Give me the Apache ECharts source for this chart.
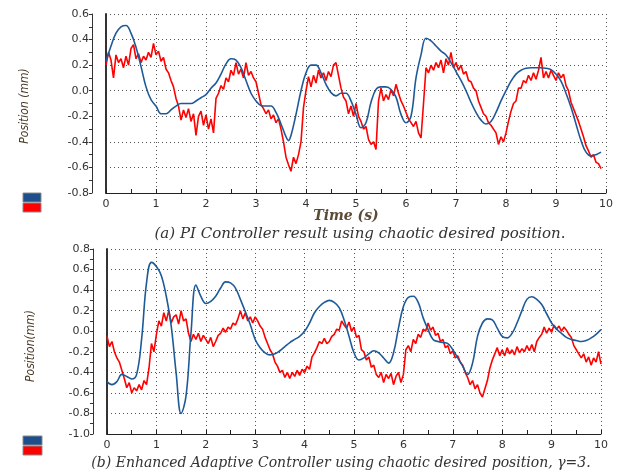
<!DOCTYPE html>
<html><head><meta charset="utf-8">
<script src="https://cdn.jsdelivr.net/npm/echarts@6/dist/echarts.min.js"></script>
<style>html,body{margin:0;padding:0;background:#fff}#c{width:621px;height:472px}</style>
</head><body><div id="c"></div>
<script>
// ---- Data ----
const xTicks = [0,1,2,3,4,5,6,7,8,9,10];
const topYTicks = [-0.8,-0.6,-0.4,-0.2,0.0,0.2,0.4,0.6];
const botYTicks = [-1.0,-0.8,-0.6,-0.4,-0.2,0.0,0.2,0.4,0.6,0.8];

// (a) PI controller: desired (blue) and actual (red)
const blueTopT = [0,0.1,0.2,0.3,0.4,0.5,0.6,0.7,0.8,0.9,1.0,1.1,1.2,1.3,1.4,1.5,1.6,1.7,1.8,1.9,2.0,2.1,2.2,2.3,2.4,2.5,2.6,2.7,2.8,2.9,3.0,3.1,3.2,3.3,3.4,3.5,3.6,3.65,3.7,3.8,3.9,4.0,4.1,4.2,4.3,4.4,4.5,4.6,4.7,4.8,4.9,5.0,5.1,5.2,5.3,5.4,5.5,5.6,5.7,5.8,5.9,6.0,6.1,6.2,6.3,6.4,6.5,6.6,6.7,6.8,6.9,7.0,7.1,7.2,7.3,7.4,7.5,7.6,7.7,7.8,7.9,8.0,8.1,8.2,8.3,8.4,8.5,8.6,8.7,8.8,8.9,9.0,9.1,9.2,9.3,9.4,9.5,9.6,9.7,9.8,9.9];
const blueTopV = [0.23,0.35,0.45,0.50,0.51,0.45,0.34,0.19,0.03,-0.07,-0.12,-0.18,-0.18,-0.15,-0.12,-0.10,-0.10,-0.10,-0.08,-0.055,-0.03,0.02,0.06,0.13,0.21,0.25,0.24,0.18,0.08,-0.02,-0.08,-0.115,-0.12,-0.12,-0.17,-0.26,-0.36,-0.39,-0.35,-0.185,0.00,0.14,0.20,0.20,0.14,0.05,-0.015,-0.04,-0.02,-0.02,-0.08,-0.185,-0.29,-0.25,-0.09,0.01,0.03,0.03,0.01,-0.05,-0.185,-0.25,-0.20,0.10,0.28,0.41,0.39,0.35,0.31,0.28,0.22,0.15,0.08,0.00,-0.09,-0.17,-0.23,-0.26,-0.24,-0.17,-0.08,0.00,0.075,0.13,0.16,0.175,0.18,0.18,0.18,0.175,0.165,0.13,0.075,-0.02,-0.13,-0.26,-0.39,-0.48,-0.51,-0.50,-0.48];
const redTopStep = 0.05;
const redTopV = [0.20,0.30,0.24,0.10,0.28,0.22,0.25,0.18,0.27,0.20,
0.33,0.36,0.25,0.29,0.22,0.27,0.24,0.30,0.26,0.37,
0.28,0.31,0.23,0.26,0.17,0.14,0.08,0.03,-0.06,-0.12,
-0.23,-0.15,-0.21,-0.14,-0.24,-0.18,-0.35,-0.20,-0.16,-0.27,
-0.19,-0.30,-0.22,-0.33,-0.06,-0.02,0.04,0.01,0.10,0.07,
0.16,0.12,0.22,0.13,0.17,0.10,0.22,0.12,0.15,0.10,
0.07,-0.02,-0.11,-0.14,-0.18,-0.15,-0.22,-0.19,-0.25,-0.22,
-0.30,-0.40,-0.52,-0.58,-0.63,-0.52,-0.57,-0.50,-0.40,-0.13,
0.00,0.11,0.03,0.12,0.06,0.16,0.10,0.14,0.08,0.15,
0.11,0.20,0.22,0.12,0.02,-0.05,-0.08,-0.18,-0.12,-0.20,
-0.10,-0.20,-0.24,-0.30,-0.28,-0.38,-0.42,-0.40,-0.46,-0.08,
0.02,-0.08,-0.03,-0.07,0.01,-0.04,0.05,-0.02,-0.08,-0.12,
-0.17,-0.22,-0.25,-0.28,-0.24,-0.33,-0.37,-0.10,0.18,0.14,
0.20,0.16,0.22,0.18,0.24,0.14,0.25,0.20,0.30,0.18,
0.22,0.16,0.20,0.13,0.15,0.08,0.07,0.02,0.00,-0.08,
-0.13,-0.18,-0.20,-0.25,-0.27,-0.30,-0.33,-0.42,-0.36,-0.40,
-0.33,-0.24,-0.16,-0.10,-0.08,0.02,0.02,0.08,0.06,0.12,
0.08,0.14,0.09,0.16,0.26,0.10,0.15,0.10,0.16,0.12,
0.08,0.14,0.10,0.13,0.04,0.00,-0.09,-0.14,-0.19,-0.24,
-0.30,-0.36,-0.43,-0.47,-0.52,-0.50,-0.56,-0.57,-0.61];

// (b) Enhanced adaptive controller
const blueBotT = [0,0.1,0.2,0.3,0.4,0.5,0.6,0.7,0.8,0.9,1.0,1.1,1.2,1.3,1.4,1.5,1.6,1.7,1.8,1.9,2.0,2.1,2.2,2.3,2.4,2.5,2.6,2.7,2.8,2.9,3.0,3.1,3.2,3.3,3.4,3.5,3.6,3.7,3.8,3.9,4.0,4.1,4.2,4.3,4.4,4.5,4.6,4.7,4.8,4.9,5.0,5.1,5.2,5.3,5.4,5.5,5.6,5.7,5.8,5.9,6.0,6.1,6.2,6.3,6.4,6.5,6.6,6.7,6.8,6.9,7.0,7.1,7.2,7.3,7.4,7.5,7.6,7.7,7.8,7.9,8.0,8.1,8.2,8.3,8.4,8.5,8.6,8.7,8.8,8.9,9.0,9.1,9.2,9.3,9.4,9.5,9.6,9.7,9.8,9.9,10.0];
const blueBotV = [-0.49,-0.52,-0.49,-0.42,-0.44,-0.465,-0.42,-0.08,0.47,0.67,0.63,0.54,0.34,0.05,-0.41,-0.80,-0.63,-0.02,0.45,0.34,0.27,0.29,0.34,0.42,0.48,0.47,0.42,0.31,0.19,0.065,-0.08,-0.16,-0.21,-0.23,-0.22,-0.19,-0.15,-0.11,-0.08,-0.05,0.00,0.08,0.18,0.24,0.28,0.30,0.28,0.23,0.11,-0.05,-0.21,-0.28,-0.26,-0.22,-0.19,-0.21,-0.26,-0.31,-0.21,0.03,0.24,0.33,0.34,0.28,0.13,0.015,-0.08,-0.10,-0.11,-0.12,-0.18,-0.26,-0.34,-0.42,-0.31,-0.05,0.08,0.12,0.11,0.03,-0.05,-0.065,-0.02,0.08,0.20,0.31,0.335,0.31,0.26,0.17,0.08,0.02,-0.02,-0.06,-0.08,-0.09,-0.10,-0.09,-0.065,-0.03,0.015];
const redBotStep = 0.05;
const redBotV = [-0.05,-0.15,-0.10,-0.20,-0.26,-0.30,-0.38,-0.46,-0.55,-0.50,
-0.60,-0.55,-0.58,-0.52,-0.57,-0.48,-0.52,-0.36,-0.12,-0.20,
-0.03,0.10,0.05,0.18,0.10,0.20,0.08,0.14,0.16,0.07,
0.20,0.10,0.12,-0.02,-0.10,-0.03,-0.08,-0.02,-0.10,-0.04,
-0.08,-0.12,-0.06,-0.15,-0.10,-0.04,-0.02,0.03,-0.01,0.04,
0.02,0.08,0.06,0.12,0.20,0.12,0.18,0.10,0.14,0.08,
0.14,0.10,0.05,0.02,-0.06,-0.12,-0.18,-0.22,-0.30,-0.34,
-0.40,-0.38,-0.45,-0.40,-0.46,-0.40,-0.44,-0.38,-0.43,-0.37,
-0.40,-0.34,-0.37,-0.25,-0.21,-0.16,-0.10,-0.12,-0.07,-0.12,
-0.10,-0.05,-0.03,0.02,0.01,0.10,0.06,0.03,0.09,0.00,
0.04,-0.06,-0.04,-0.18,-0.20,-0.28,-0.25,-0.35,-0.33,-0.42,
-0.45,-0.40,-0.50,-0.42,-0.46,-0.41,-0.52,-0.44,-0.40,-0.50,
-0.42,-0.18,-0.14,-0.20,-0.08,-0.12,-0.03,-0.06,0.02,0.00,
0.08,0.01,0.04,-0.04,-0.02,-0.10,-0.08,-0.16,-0.14,-0.22,
-0.19,-0.26,-0.24,-0.30,-0.33,-0.40,-0.45,-0.52,-0.48,-0.56,
-0.52,-0.60,-0.64,-0.56,-0.48,-0.36,-0.28,-0.22,-0.16,-0.24,
-0.18,-0.24,-0.16,-0.22,-0.18,-0.23,-0.15,-0.21,-0.17,-0.20,
-0.14,-0.19,-0.13,-0.20,-0.10,-0.06,-0.03,0.04,-0.02,0.03,
-0.01,0.06,0.02,0.05,0.00,0.04,0.01,-0.03,-0.06,-0.14,
-0.18,-0.22,-0.26,-0.22,-0.30,-0.25,-0.33,-0.26,-0.30,-0.20,
-0.32];

// ---- Build ----
const pairs = (t, v) => v.map((y, i) => [t[i], y]);
const stepPairs = (step, v) => v.map((y, i) => [+(i * step).toFixed(2), y]);

const chart = echarts.init(document.getElementById('c'), null, {renderer: 'canvas'});
const LBL = {color: '#333', fontFamily: 'DejaVu Sans, Liberation Sans, sans-serif', fontSize: 11};
const dotted = {show: true, lineStyle: {color: '#555', type: [1, 3], width: 1}};

function xAx(gi, ticks) {
  return {
    type: 'value', gridIndex: gi, min: ticks[0], max: ticks[ticks.length - 1], interval: 1,
    axisLine: {show: true, onZero: false, lineStyle: {color: '#222', width: 1}},
    axisTick: {show: true, inside: true, length: 4, lineStyle: {color: '#222'}},
    minorTick: {show: true, splitNumber: 2, length: 4, lineStyle: {color: '#222'}},
    axisLabel: Object.assign({margin: 6, formatter: v => String(v)}, LBL),
    splitLine: dotted
  };
}
function yAx(gi, ticks) {
  return {
    type: 'value', gridIndex: gi, position: 'left', min: ticks[0], max: ticks[ticks.length - 1], interval: 0.2,
    offset: 14,
    axisLine: {show: true, onZero: false, lineStyle: {color: '#333', width: 1}},
    axisTick: {show: true, length: 3, lineStyle: {color: '#333'}},
    minorTick: {show: true, splitNumber: 2, length: 3, lineStyle: {color: '#333'}},
    axisLabel: Object.assign({margin: 3, formatter: v => v.toFixed(1)}, LBL),
    splitLine: dotted
  };
}
function yLine(gi, ticks) {
  return {
    type: 'value', gridIndex: gi, position: 'left', min: ticks[0], max: ticks[ticks.length - 1], interval: 0.2,
    offset: 0,
    axisLine: {show: true, onZero: false, lineStyle: {color: '#333', width: 2}},
    axisTick: {show: false}, axisLabel: {show: false}, splitLine: {show: false}
  };
}

const BLUE = '#1f5a98', RED = '#ff0000';
const capFont = 'DejaVu Serif, Liberation Serif, serif';
const nameFont = 'italic 12px "Liberation Sans Narrow", "DejaVu Sans Condensed", sans-serif';

chart.setOption({
  animation: false,
  backgroundColor: '#fff',
  grid: [
    {left: 106, top: 14, width: 500, height: 179},
    {left: 107, top: 249, width: 494, height: 185}
  ],
  xAxis: [xAx(0, xTicks), xAx(1, xTicks)],
  yAxis: [yAx(0, topYTicks), yLine(0, topYTicks), yAx(1, botYTicks), yLine(1, botYTicks)],
  series: [
    {type: 'line', xAxisIndex: 0, yAxisIndex: 0, data: stepPairs(redTopStep, redTopV), showSymbol: false,
     lineStyle: {color: RED, width: 1.6}, z: 2},
    {type: 'line', xAxisIndex: 0, yAxisIndex: 0, data: pairs(blueTopT, blueTopV), showSymbol: false, smooth: 0.4,
     lineStyle: {color: BLUE, width: 1.6}, z: 3},
    {type: 'line', xAxisIndex: 1, yAxisIndex: 2, data: stepPairs(redBotStep, redBotV), showSymbol: false,
     lineStyle: {color: RED, width: 1.6}, z: 2},
    {type: 'line', xAxisIndex: 1, yAxisIndex: 2, data: pairs(blueBotT, blueBotV), showSymbol: false, smooth: 0.4,
     lineStyle: {color: BLUE, width: 1.6}, z: 3}
  ],
  graphic: [
    {type: 'text', x: 25, y: 106, rotation: Math.PI / 2, style: {text: 'Position (mm)', fill: '#4a3a26',
      font: nameFont, align: 'center', verticalAlign: 'middle'}},
    {type: 'text', x: 31, y: 346, rotation: Math.PI / 2, style: {text: 'Position(mm)', fill: '#4a3a26',
      font: nameFont, align: 'center', verticalAlign: 'middle'}},
    {type: 'text', x: 346, y: 216, style: {text: 'Time (s)', fill: '#5b4a35',
      font: 'italic bold 14px ' + capFont, align: 'center', verticalAlign: 'middle'}},
    {type: 'text', x: 360, y: 234, style: {text: '(a) PI Controller result using chaotic desired position.', fill: '#333',
      font: 'italic 15px ' + capFont, align: 'center', verticalAlign: 'middle'}},
    {type: 'text', x: 341, y: 463, style: {text: '(b) Enhanced Adaptive Controller using chaotic desired position, γ=3.', fill: '#333',
      font: 'italic 14px ' + capFont, align: 'center', verticalAlign: 'middle'}},
    {type: 'rect', shape: {x: 23, y: 193, width: 18, height: 9}, style: {fill: '#1c4f8c', stroke: '#8a8a8a', lineWidth: 1}},
    {type: 'rect', shape: {x: 23, y: 203, width: 18, height: 9}, style: {fill: RED, stroke: '#8a8a8a', lineWidth: 1}},
    {type: 'rect', shape: {x: 23, y: 436, width: 19, height: 9}, style: {fill: '#1c4f8c', stroke: '#8a8a8a', lineWidth: 1}},
    {type: 'rect', shape: {x: 23, y: 446, width: 19, height: 9}, style: {fill: RED, stroke: '#8a8a8a', lineWidth: 1}}
  ]
});
</script></body></html>
